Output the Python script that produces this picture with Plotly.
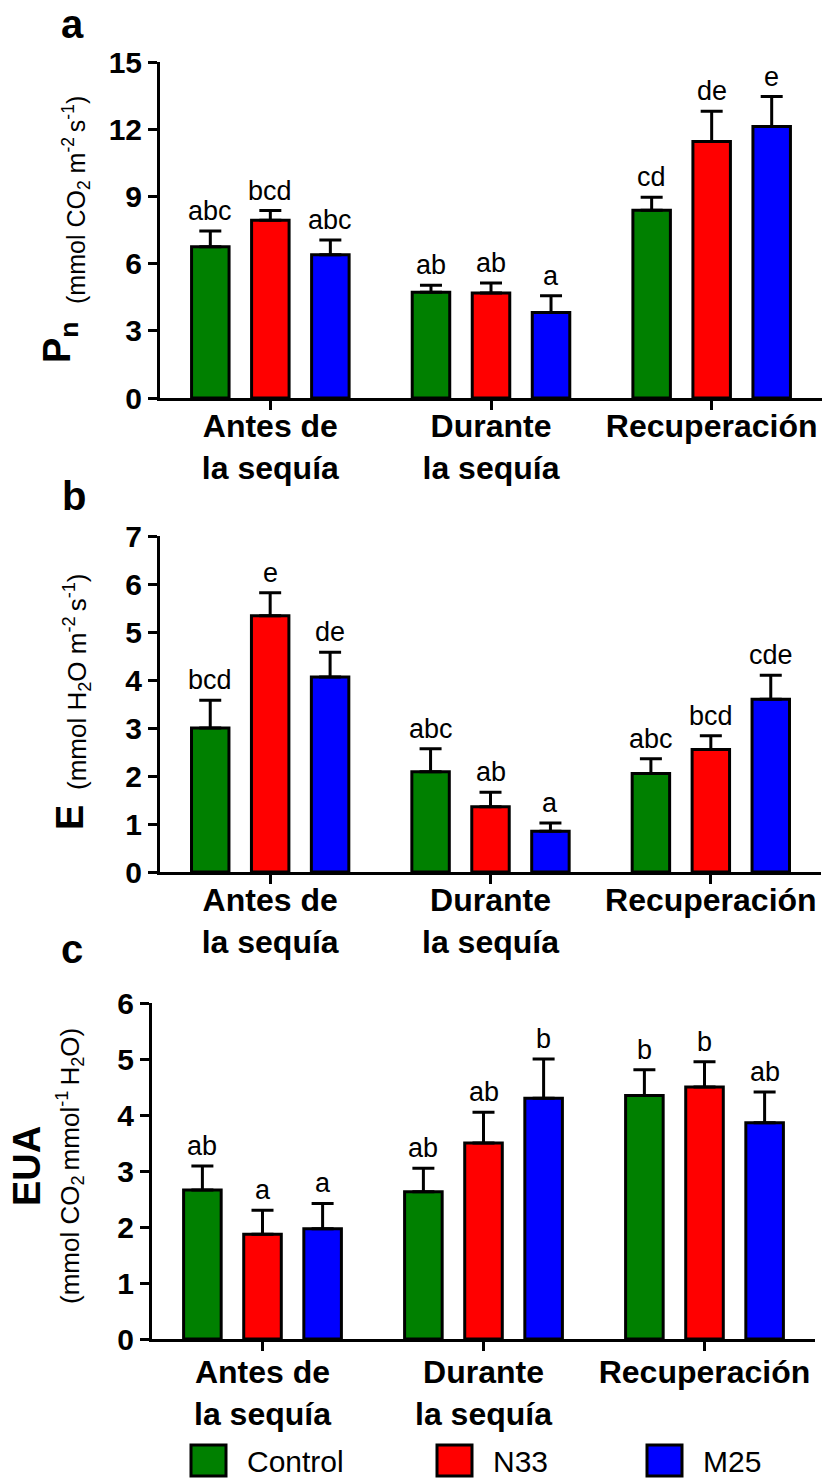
import plotly.graph_objects as go

W, H = 823, 1483

# ---------------- data ----------------
groups = ["Antes de<br>la sequía", "Durante<br>la sequía", "Recuperación"]
series = ["Control", "N33", "M25"]
colors = ["#008000", "#ff0000", "#0000ff"]

# Panel a: Pn
pn_control = [6.75, 4.72, 8.38]
pn_n33 = [7.94, 4.69, 11.45]
pn_m25 = [6.40, 3.82, 12.12]
pn_err_control = [0.70, 0.31, 0.58]
pn_err_n33 = [0.43, 0.44, 1.35]
pn_err_m25 = [0.65, 0.75, 1.34]
pn_let_control = ["abc", "ab", "cd"]
pn_let_n33 = ["bcd", "ab", "de"]
pn_let_m25 = ["abc", "a", "e"]

# Panel b: E
e_control = [3.00, 2.09, 2.05]
e_n33 = [5.34, 1.36, 2.55]
e_m25 = [4.06, 0.85, 3.60]
e_err_control = [0.58, 0.48, 0.31]
e_err_n33 = [0.48, 0.30, 0.29]
e_err_m25 = [0.52, 0.17, 0.50]
e_let_control = ["bcd", "abc", "abc"]
e_let_n33 = ["e", "ab", "bcd"]
e_let_m25 = ["de", "a", "cde"]

# Panel c: EUA
eua_control = [2.66, 2.63, 4.35]
eua_n33 = [1.87, 3.50, 4.50]
eua_m25 = [1.97, 4.30, 3.86]
eua_err_control = [0.43, 0.42, 0.46]
eua_err_n33 = [0.43, 0.55, 0.45]
eua_err_m25 = [0.45, 0.70, 0.55]
eua_let_control = ["ab", "ab", "b"]
eua_let_n33 = ["a", "ab", "b"]
eua_let_m25 = ["a", "b", "ab"]

# --------------- styling ---------------
FONT = "Liberation Sans, Arial, sans-serif"
offsets = [-0.272, 0.0, 0.272]
bar_w = 0.17


def px(x):
    return x / W


def py(y):
    return 1 - y / H


panels = [
    dict(xa="x", ya="y", means=[pn_control, pn_n33, pn_m25],
         errs=[pn_err_control, pn_err_n33, pn_err_m25],
         lets=[pn_let_control, pn_let_n33, pn_let_m25],
         xdom=(160, 822), ydom=(62, 398), yrange=[0, 15], dtick=3, standoff=-11),
    dict(xa="x2", ya="y2", means=[e_control, e_n33, e_m25],
         errs=[e_err_control, e_err_n33, e_err_m25],
         lets=[e_let_control, e_let_n33, e_let_m25],
         xdom=(160, 821), ydom=(536, 872), yrange=[0, 7], dtick=1, standoff=-11),
    dict(xa="x3", ya="y3", means=[eua_control, eua_n33, eua_m25],
         errs=[eua_err_control, eua_err_n33, eua_err_m25],
         lets=[eua_let_control, eua_let_n33, eua_let_m25],
         xdom=(152, 815), ydom=(1003, 1339), yrange=[0, 6], dtick=1, standoff=-6),
]

fig = go.Figure()
annotations = []
layout_axes = {}

for pi, p in enumerate(panels):
    for si, name in enumerate(series):
        xs = [g + offsets[si] for g in range(len(groups))]
        fig.add_trace(go.Bar(
            x=xs, y=p["means"][si], width=bar_w, name=name,
            xaxis=p["xa"], yaxis=p["ya"], showlegend=False,
            marker=dict(color=colors[si], line=dict(color="black", width=3)),
            error_y=dict(type="data", array=p["errs"][si],
                         arrayminus=[0] * len(groups), symmetric=False,
                         color="black", thickness=3, width=11),
        ))
        for g in range(len(groups)):
            annotations.append(dict(
                x=xs[g], y=p["means"][si][g] + p["errs"][si][g],
                xref=p["xa"], yref=p["ya"], text=p["lets"][si][g],
                showarrow=False, xanchor="center", yanchor="bottom", yshift=3,
                font=dict(size=27, color="black", family=FONT)))
    sfx = "" if pi == 0 else str(pi + 1)
    layout_axes["xaxis" + sfx] = dict(
        domain=[px(p["xdom"][0]), px(p["xdom"][1])], range=[-0.5, 2.5],
        tickvals=list(range(len(groups))), ticktext=groups,
        ticks="outside", ticklen=9, tickwidth=3, tickcolor="black",
        ticklabelstandoff=p["standoff"],
        showline=True, linewidth=3, linecolor="black",
        showgrid=False, zeroline=False, fixedrange=True, automargin=False,
        anchor="y" + sfx,
        tickfont=dict(size=32, color="black", family=FONT, weight="bold"))
    layout_axes["yaxis" + sfx] = dict(
        domain=[py(p["ydom"][1]), py(p["ydom"][0])], range=p["yrange"],
        dtick=p["dtick"], tick0=0, automargin=False,
        ticks="outside", ticklen=9, tickwidth=3, tickcolor="black",
        showline=True, linewidth=3, linecolor="black",
        showgrid=False, zeroline=False, anchor="x" + sfx,
        tickfont=dict(size=30, color="black", family=FONT, weight="bold"))

# panel letters
for letter, (lx, ly) in zip(["a", "b", "c"], [(72, 24), (74, 496), (72, 949)]):
    annotations.append(dict(x=px(lx), y=py(ly), xref="paper", yref="paper",
                            text="<b>%s</b>" % letter, showarrow=False,
                            xanchor="center", yanchor="middle",
                            font=dict(size=40, color="black", family=FONT)))

# y-axis titles
ytitles = [
    ("<b>P<sub>n</sub></b>", 38, 60, 342),
    ("(mmol CO<sub>2</sub> m<sup>-2 </sup>s<sup>-1</sup>)", 25, 76, 200),
    ("<b>E</b>", 38, 70, 818),
    ("(mmol H<sub>2</sub>O m<sup>-2 </sup>s<sup>-1</sup>)", 26, 77, 682),
    ("<b>EUA</b>", 38, 27, 1166),
    ("(mmol CO<sub>2 </sub>mmol<sup>-1 </sup>H<sub>2</sub>O)", 26, 70, 1166),
]
for txt, sz, cx, cy in ytitles:
    annotations.append(dict(x=px(cx), y=py(cy), xref="paper", yref="paper",
                            text=txt, textangle=-90, showarrow=False,
                            xanchor="center", yanchor="middle",
                            font=dict(size=sz, color="black", family=FONT)))

# legend (swatches + labels)
shapes = []
leg_x = [191, 437, 647]
for si, name in enumerate(series):
    x0 = leg_x[si]
    shapes.append(dict(type="rect", xref="paper", yref="paper",
                       x0=px(x0), x1=px(x0 + 35), y0=py(1476), y1=py(1445),
                       fillcolor=colors[si], line=dict(color="black", width=3)))
    annotations.append(dict(x=px(x0 + 54), y=py(1461), xref="paper", yref="paper",
                            text=name, showarrow=False, xanchor="left",
                            yanchor="middle",
                            font=dict(size=30, color="black", family=FONT)))

fig.update_layout(
    width=W, height=H, margin=dict(l=0, r=0, t=0, b=0, pad=0),
    paper_bgcolor="white", plot_bgcolor="white",
    barmode="overlay", showlegend=False,
    annotations=annotations, shapes=shapes,
    font=dict(family=FONT, color="black"),
    **layout_axes,
)

fig.write_html("out.html")
